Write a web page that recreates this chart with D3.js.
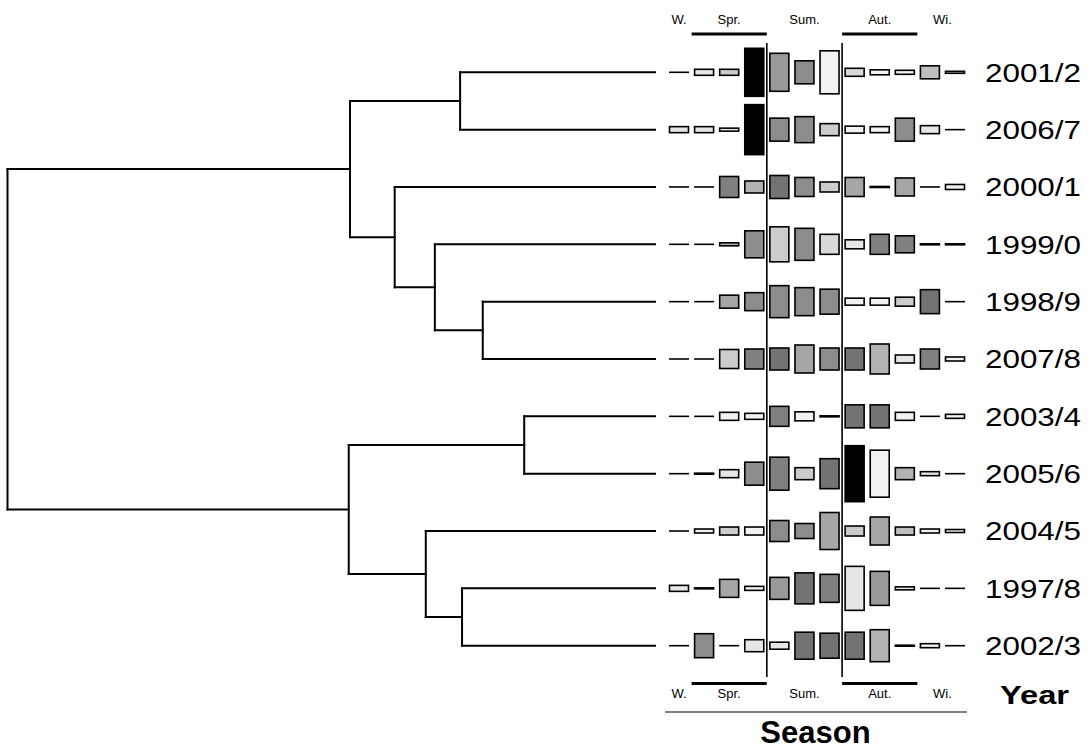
<!DOCTYPE html>
<html><head><meta charset="utf-8">
<script src="https://cdn.jsdelivr.net/npm/d3@7"></script>
<style>body{margin:0;background:#fff}svg{display:block}</style>
</head><body>
<svg id="c" width="1088" height="751"></svg>
<script>
// ---- data ----
const years = ["2001/2","2006/7","2000/1","1999/0","1998/9","2007/8","2003/4","2005/6","2004/5","1997/8","2002/3"];
const months = [0,1,2,3,4,5,6,7,8,9,10,11];
// cell sizes (abundance) per year row, 12 months
const cellSizes = [
  [0,6,6,48,38,23,43,8,5,4,13,2],
  [6,6,3,50,23,26,12,7,6,23,8,0],
  [0,0,21,12,23,19,10,19,1,18,0,5],
  [0,0,3,27,35,32,20,9,20,17,1,1],
  [0,0,13,18,32,28,25,7,7,9,24,0],
  [0,0,19,20,22,28,22,22,30,8,20,4],
  [0,0,8,6,20,9,1,23,23,8,0,4],
  [0,1,8,23,33,12,30,56,47,12,4,0],
  [0,4,8,8,21,15,37,10,28,8,4,3],
  [6,1,18,4,22,31,28,44,34,3,0,0],
  [0,24,0,12,7,27,25,27,32,1,4,0]
];
// cell shading (0 = white, 1 = black)
const cellShades = [
  [0,.10,.20,1,.40,.45,.05,.15,.05,.05,.25,.10],
  [.10,.10,.10,1,.45,.45,.20,.05,.05,.45,.10,0],
  [0,0,.50,.30,.55,.45,.20,.35,0,.35,0,.05],
  [0,0,.30,.45,.20,.45,.15,.10,.50,.50,0,0],
  [0,0,.35,.45,.45,.45,.45,.05,.05,.20,.55,0],
  [0,0,.20,.50,.55,.35,.45,.55,.30,.10,.50,.05],
  [0,0,.05,.05,.50,.05,0,.55,.55,.05,0,.05],
  [0,0,.10,.45,.50,.20,.55,1,.05,.30,.10,0],
  [0,.05,.20,.05,.45,.45,.35,.20,.35,.25,.05,.05],
  [.10,0,.35,.05,.40,.55,.50,.10,.40,.10,0,0],
  [0,.45,0,.10,.10,.55,.55,.55,.30,0,.05,0]
];
const seasonLabels = ["W.","Spr.","Sum.","Aut.","Wi."];
const seasonCenters = [0,2,5,8,10.5];
const seasonBars = [[1,3],[7,9]];
const seasonDividers = [3.5,6.5];
// linkage: [left, right, distance, name]
const merges = [
  ["2003/4","2005/6",0.202,"A"],
  ["1998/9","2007/8",0.266,"B"],
  ["1997/8","2002/3",0.298,"C"],
  ["2001/2","2006/7",0.301,"D"],
  ["1999/0","B",0.340,"E"],
  ["2004/5","C",0.354,"F"],
  ["2000/1","E",0.402,"G"],
  ["D","G",0.471,"H"],
  ["A","F",0.473,"I"],
  ["H","I",1.000,"root"]
];

// ---- layout ----
const svg = d3.select("#c");
const font = "'Liberation Sans', Arial, Helvetica, sans-serif";
const yRow = d3.scalePoint().domain(years).range([72.3,645.7]);
const xDist = d3.scaleLinear().domain([0,1]).range([655,7.5]);
const xCol = d3.scaleLinear().domain([0,11]).range([679,955]);
const hScale = d3.scaleLinear().domain([0,56]).range([0,56]);
const shade = d3.scaleLinear().domain([0,1]).range(["#ffffff","#000000"]);

// build hierarchy
const nodes = {};
years.forEach(y => nodes[y] = {name:y, dist:0});
merges.forEach(([a,b,d,n]) => { nodes[n] = {name:n, dist:d, children:[nodes[a],nodes[b]]}; });
const root = d3.hierarchy(nodes["root"]);
root.eachAfter(n => {
  n.px = xDist(n.data.dist);
  n.py = n.children ? d3.mean(n.children, c => c.py) : yRow(n.data.name);
});

const g = svg.append("g").attr("fill","none").attr("stroke","#000").attr("stroke-width",2).attr("stroke-linecap","square");
root.descendants().filter(n => n.children).forEach(n => {
  const ys = n.children.map(c => c.py);
  g.append("line").attr("x1",n.px).attr("x2",n.px).attr("y1",d3.min(ys)).attr("y2",d3.max(ys));
  n.children.forEach(c => {
    g.append("line").attr("x1",n.px).attr("x2",c.px).attr("y1",c.py).attr("y2",c.py);
  });
});

// cells
const cells = svg.append("g");
years.forEach((yr, r) => {
  months.forEach(m => {
    const v = cellSizes[r][m];
    const cx = xCol(m), cy = yRow(yr);
    if (v === 0) {
      cells.append("line").attr("x1",cx-10).attr("x2",cx+10).attr("y1",cy).attr("y2",cy)
        .attr("stroke","#000").attr("stroke-width",1.6);
    } else {
      const h = hScale(v);
      cells.append("rect").attr("x",cx-9.5).attr("y",cy-h/2).attr("width",19).attr("height",h)
        .attr("fill",shade(cellShades[r][m])).attr("stroke","#000").attr("stroke-width",1.6);
    }
  });
  svg.append("text").attr("x",985).attr("y",yRow(yr)+9.2).attr("font-family",font)
    .attr("font-size",26).attr("textLength",96).attr("lengthAdjust","spacingAndGlyphs")
    .attr("fill","#000").text(yr);
});

// dividers
seasonDividers.forEach(d => {
  svg.append("line").attr("x1",xCol(d)).attr("x2",xCol(d)).attr("y1",43).attr("y2",677)
    .attr("stroke","#000").attr("stroke-width",1.6);
});

// season bars and labels (top and bottom)
[34, 683.5].forEach(by => {
  seasonBars.forEach(([a,b]) => {
    svg.append("line").attr("x1",xCol(a)-12.5).attr("x2",xCol(b)+12.5).attr("y1",by).attr("y2",by)
      .attr("stroke","#000").attr("stroke-width",3.2);
  });
});
[24, 698].forEach(ty => {
  seasonLabels.forEach((s,i) => {
    svg.append("text").attr("x",xCol(seasonCenters[i])).attr("y",ty).attr("text-anchor","middle")
      .attr("font-family",font).attr("font-size",13).attr("fill","#000").text(s);
  });
});
svg.append("line").attr("x1",665).attr("x2",967).attr("y1",712).attr("y2",712).attr("stroke","#000").attr("stroke-width",1.2);
svg.append("text").attr("x",815.5).attr("y",743).attr("text-anchor","middle").attr("font-family",font)
  .attr("font-weight","bold").attr("font-size",31).attr("fill","#000").text("Season");
svg.append("text").attr("x",1000).attr("y",703.5).attr("font-family",font).attr("font-weight","bold")
  .attr("font-size",26).attr("textLength",69).attr("lengthAdjust","spacingAndGlyphs").attr("fill","#000").text("Year");
</script>
</body></html>
